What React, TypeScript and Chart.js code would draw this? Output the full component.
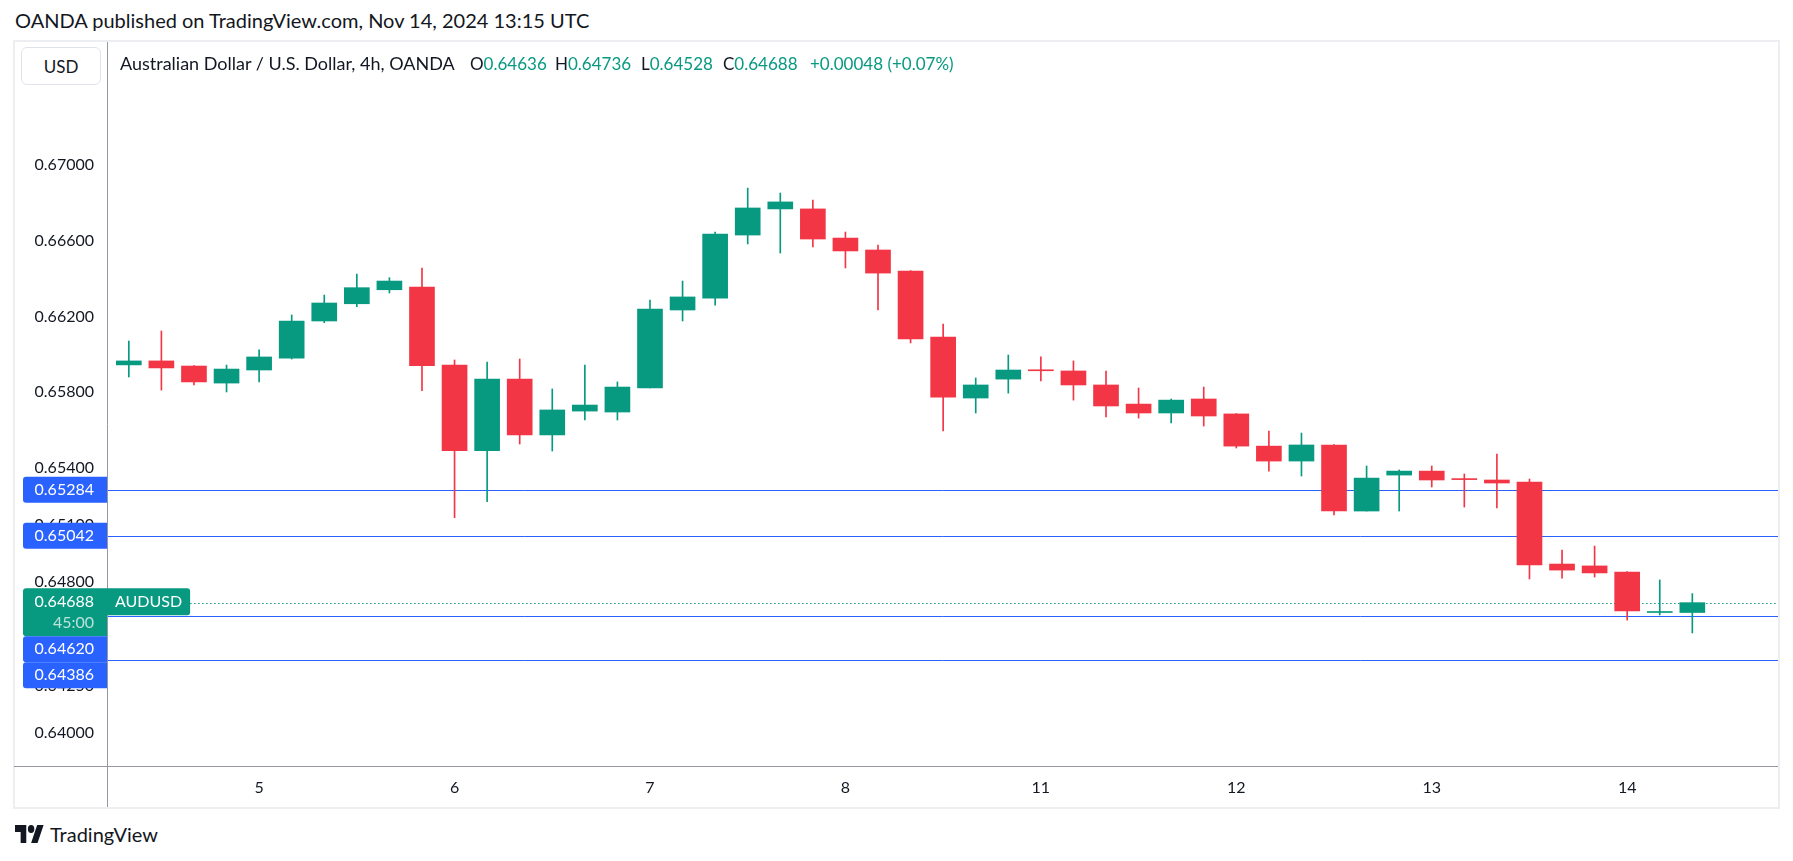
import React, { useEffect, useRef } from "react";
import { Chart, registerables } from "chart.js";

Chart.register(...registerables);

// ---------- data ----------
const opens = [
  0.65944, 0.65965, 0.65938, 0.65848, 0.65917, 0.6598, 0.66176, 0.66267, 0.66341, 0.66355,
  0.65943, 0.65491, 0.65869, 0.65574, 0.657, 0.65695, 0.65822, 0.66234, 0.66297, 0.6663,
  0.66768, 0.66768, 0.66614, 0.66551, 0.6644, 0.66091, 0.65769, 0.65869, 0.65917, 0.65912,
  0.65838, 0.65737, 0.6569, 0.65764, 0.65685, 0.65515, 0.65436, 0.65521, 0.65172, 0.65362,
  0.65383, 0.65342, 0.65336, 0.65325, 0.64892, 0.64882, 0.6485, 0.64636, 0.64636,
];
const highs = [
  0.6607, 0.66123, 0.6594, 0.65943, 0.66023, 0.66208, 0.66313, 0.66424, 0.66405, 0.66456,
  0.6597, 0.65959, 0.65975, 0.65817, 0.65943, 0.65854, 0.66287, 0.66387, 0.66646, 0.66878,
  0.66852, 0.66815, 0.66646, 0.66577, 0.66442, 0.6616, 0.65875, 0.65996, 0.65986, 0.65965,
  0.65912, 0.65822, 0.65764, 0.65827, 0.65687, 0.65595, 0.65584, 0.65523, 0.6541, 0.65389,
  0.6541, 0.65368, 0.65473, 0.65341, 0.64966, 0.64987, 0.64852, 0.64808, 0.64736,
];
const lows = [
  0.6588, 0.65811, 0.65838, 0.65801, 0.65854, 0.65975, 0.66167, 0.66251, 0.66324, 0.65808,
  0.65137, 0.65221, 0.65526, 0.65489, 0.65653, 0.65653, 0.65822, 0.66176, 0.6626, 0.66583,
  0.66535, 0.66567, 0.66456, 0.66234, 0.6606, 0.65595, 0.6569, 0.65795, 0.65859, 0.65758,
  0.65669, 0.65663, 0.65637, 0.65621, 0.65505, 0.65383, 0.65357, 0.65151, 0.65172, 0.65172,
  0.65299, 0.65193, 0.65188, 0.64813, 0.64818, 0.64823, 0.64596, 0.64623, 0.64528,
];
const closes = [
  0.65965, 0.65928, 0.65854, 0.65922, 0.65986, 0.66176, 0.66271, 0.66352, 0.66387, 0.6594,
  0.65491, 0.65869, 0.65574, 0.65706, 0.65732, 0.65827, 0.66239, 0.66303, 0.66635, 0.66773,
  0.66805, 0.66609, 0.66546, 0.66429, 0.66081, 0.65774, 0.65838, 0.65917, 0.65913, 0.65838,
  0.65727, 0.6569, 0.65758, 0.65674, 0.65515, 0.65436, 0.65521, 0.65172, 0.65346, 0.65383,
  0.65336, 0.65338, 0.6532, 0.64887, 0.6486, 0.64845, 0.64644, 0.6464, 0.64688,
];

// time axis: candle index where each day label sits
const dayTickIndex = [4, 10, 16, 22, 28, 34, 40, 46];
const dayLabels = ["5", "6", "7", "8", "11", "12", "13", "14"];

// price axis tick labels
const priceTicks = [0.67, 0.666, 0.662, 0.658, 0.654, 0.651, 0.648, 0.6425, 0.64];

// horizontal levels drawn by the author
const levels = [0.65284, 0.65042, 0.6462, 0.64386];

const symbol = "AUDUSD";
const countdown = "45:00";

const GREEN = "#089981";
const RED = "#F23645";
const BLUE = "#2962FF";
const TEXT = "#131722";
const AXISLINE = "#9598a1";
const FONT = "Lato, 'Noto Sans', sans-serif";

const X_MIN = -0.67;
const X_MAX = 50.63;
const Y_MIN = 0.638251;
const Y_MAX = 0.676498;

export default function App() {
  const ref = useRef<HTMLCanvasElement | null>(null);

  useEffect(() => {
    const canvas = ref.current!;
    const idx = opens.map((_, i) => i);
    const colors = idx.map((i) => (closes[i] >= opens[i] ? GREEN : RED));
    const last = closes.length - 1;

    const overlay = {
      id: "tvOverlay",
      beforeDatasetsDraw(chart: any) {
        const { ctx, chartArea: a, scales } = chart;
        const y = scales.y;
        ctx.save();
        ctx.beginPath();
        ctx.rect(a.left, a.top, a.right - a.left, a.bottom - a.top);
        ctx.clip();
        ctx.strokeStyle = BLUE;
        ctx.lineWidth = 1;
        levels.forEach((v) => {
          const py = Math.round(y.getPixelForValue(v)) + 0.5;
          ctx.beginPath();
          ctx.moveTo(a.left, py);
          ctx.lineTo(a.right, py);
          ctx.stroke();
        });
        ctx.font = `16px ${FONT}`;
        const symW = ctx.measureText(symbol).width + 16;
        const cp = Math.round(y.getPixelForValue(closes[last])) + 0.5;
        ctx.strokeStyle = GREEN;
        ctx.setLineDash([1.5, 2.5]);
        ctx.beginPath();
        ctx.moveTo(a.left + symW, cp);
        ctx.lineTo(a.right, cp);
        ctx.stroke();
        ctx.restore();
      },
      afterDraw(chart: any) {
        const { ctx, chartArea: a, scales, width, height } = chart;
        const y = scales.y;
        ctx.save();
        // axis separators
        ctx.strokeStyle = AXISLINE;
        ctx.lineWidth = 1;
        ctx.beginPath();
        ctx.moveTo(Math.round(a.left) + 0.5, 0);
        ctx.lineTo(Math.round(a.left) + 0.5, height);
        ctx.moveTo(0, Math.round(a.bottom) + 0.5);
        ctx.lineTo(width, Math.round(a.bottom) + 0.5);
        ctx.stroke();

        // price labels
        const labelLeft = 9;
        const labelW = a.left - labelLeft;
        const textX = a.left - 13;
        ctx.font = `16px ${FONT}`;
        ctx.textBaseline = "middle";
        type L = { v: number; top: number; h: number; kind: string };
        const items: L[] = [];
        const cpy = y.getPixelForValue(closes[last]);
        items.push({ v: closes[last], top: cpy - 14.5, h: 48, kind: "cur" });
        levels.forEach((v) => {
          const py = y.getPixelForValue(v);
          items.push({ v, top: py - 13, h: 26, kind: "lvl" });
        });
        items.sort((p, q) => p.top - q.top);
        let prevBottom = -1e9;
        items.forEach((it) => {
          if (it.top < prevBottom) it.top = prevBottom;
          prevBottom = it.top + it.h;
        });
        items.forEach((it) => {
          ctx.fillStyle = it.kind === "cur" ? GREEN : BLUE;
          ctx.beginPath();
          (ctx as any).roundRect(labelLeft, it.top, labelW, it.h, [3, 0, 0, 3]);
          ctx.fill();
          ctx.textAlign = "right";
          ctx.fillStyle = "#ffffff";
          if (it.kind === "cur") {
            ctx.fillText(it.v.toFixed(5), textX, it.top + 14);
            ctx.fillStyle = "rgba(255,255,255,0.72)";
            ctx.fillText(countdown, textX, it.top + 35);
          } else {
            ctx.fillText(it.v.toFixed(5), textX, it.top + it.h / 2);
          }
        });
        // symbol label
        const symW = ctx.measureText(symbol).width + 16;
        ctx.fillStyle = GREEN;
        ctx.beginPath();
        (ctx as any).roundRect(a.left, cpy - 14.5, symW, 27, [0, 3, 3, 0]);
        ctx.fill();
        ctx.fillStyle = "#ffffff";
        ctx.textAlign = "left";
        ctx.fillText(symbol, a.left + 8, cpy - 1);
        ctx.restore();
      },
    };

    const chart = new Chart(canvas, {
      type: "bar",
      data: {
        datasets: [
          {
            label: "wick",
            data: idx.map((i) => ({ x: i, y: [lows[i], highs[i]] })) as any,
            backgroundColor: colors,
            barThickness: 1,
            grouped: false,
            borderWidth: 0,
            borderSkipped: false,
            order: 2,
          } as any,
          {
            label: "body",
            data: idx.map((i) => ({ x: i, y: [opens[i], closes[i]] })) as any,
            backgroundColor: colors,
            barThickness: 25,
            grouped: false,
            borderWidth: 0,
            borderSkipped: false,
            minBarLength: 1,
            order: 1,
          } as any,
        ],
      },
      options: {
        animation: false,
        responsive: false,
        maintainAspectRatio: false,
        devicePixelRatio: 1,
        layout: { padding: 0 },
        plugins: { legend: { display: false }, tooltip: { enabled: false } },
        scales: {
          x: {
            type: "linear",
            min: X_MIN,
            max: X_MAX,
            offset: false,
            grid: { display: false, drawTicks: false },
            border: { display: false },
            afterBuildTicks: (s: any) => {
              s.ticks = dayTickIndex.map((v) => ({ value: v }));
            },
            afterFit: (s: any) => {
              s.height = 41;
              s.paddingLeft = 0;
              s.paddingRight = 0;
              s.paddingTop = 0;
              s.paddingBottom = 0;
            },
            ticks: {
              autoSkip: false,
              maxRotation: 0,
              padding: 12,
              color: TEXT,
              font: { family: FONT, size: 16 },
              callback: (v: any) => {
                const k = dayTickIndex.indexOf(Number(v));
                return k >= 0 ? dayLabels[k] : "";
              },
            },
          } as any,
          y: {
            type: "linear",
            position: "left",
            min: Y_MIN,
            max: Y_MAX,
            beginAtZero: false,
            grid: { display: false, drawTicks: false },
            border: { display: false },
            afterBuildTicks: (s: any) => {
              s.ticks = priceTicks.map((v) => ({ value: v }));
            },
            afterFit: (s: any) => {
              s.width = 93;
              s.paddingLeft = 0;
              s.paddingRight = 0;
              s.paddingTop = 0;
              s.paddingBottom = 0;
            },
            ticks: {
              padding: 13,
              color: TEXT,
              font: { family: FONT, size: 16 },
              callback: (v: any) => Number(v).toFixed(5),
            },
          } as any,
        },
      },
      plugins: [overlay as any],
    });
    return () => chart.destroy();
  }, []);

  const o = opens[opens.length - 1];
  const h = highs[highs.length - 1];
  const l = lows[lows.length - 1];
  const c = closes[closes.length - 1];
  const prev = closes[closes.length - 2];
  const ch = c - prev;
  const pct = (ch / prev) * 100;
  const sign = ch >= 0 ? "+" : "";
  const chText = `${sign}${ch.toFixed(5)} (${sign}${pct.toFixed(2)}%)`;

  const legendItem = (left: number, letter: string, value: string) => (
    <div style={{ position: "absolute", left, top: 54, whiteSpace: "nowrap", fontSize: 17 }}>
      <span style={{ color: TEXT }}>{letter}</span>
      <span style={{ color: GREEN }}>{value}</span>
    </div>
  );

  return (
    <div
      style={{
        position: "absolute",
        left: 0,
        top: 0,
        width: 1793,
        height: 861,
        background: "#ffffff",
        fontFamily: FONT,
        color: TEXT,
        overflow: "hidden",
      }}
    >
      <div style={{ position: "absolute", left: 15, top: 8, fontSize: 20, lineHeight: "24px", whiteSpace: "nowrap" }}>
        OANDA published on TradingView.com, Nov 14, 2024 13:15 UTC
      </div>
      <div
        style={{
          position: "absolute",
          left: 13,
          top: 40,
          width: 1767,
          height: 769,
          border: "2px solid #eceef2",
          boxSizing: "border-box",
        }}
      />
      <canvas
        ref={ref}
        width={1764}
        height={765}
        style={{ position: "absolute", left: 14, top: 42, width: 1764, height: 765 }}
      />
      <div
        style={{
          position: "absolute",
          left: 21,
          top: 47,
          width: 80,
          height: 38,
          border: "1px solid #e0e3eb",
          borderRadius: 6,
          boxSizing: "border-box",
          background: "#ffffff",
          display: "flex",
          alignItems: "center",
          justifyContent: "center",
          fontSize: 17,
        }}
      >
        USD
      </div>
      <div style={{ lineHeight: "20px" }}>
        <div style={{ position: "absolute", left: 120, top: 53, fontSize: 18, whiteSpace: "nowrap" }}>
          Australian Dollar / U.S. Dollar, 4h, OANDA
        </div>
        {legendItem(470, "O", o.toFixed(5))}
        {legendItem(555, "H", h.toFixed(5))}
        {legendItem(641, "L", l.toFixed(5))}
        {legendItem(723, "C", c.toFixed(5))}
        <div style={{ position: "absolute", left: 810, top: 54, fontSize: 17, whiteSpace: "nowrap", color: GREEN }}>
          {chText}
        </div>
      </div>
      <div style={{ position: "absolute", left: 15, top: 822, display: "flex", alignItems: "center" }}>
        <svg width="29" height="18" viewBox="0 4 36 18" preserveAspectRatio="none">
          <path d="M14 22H7V11H0V4h14v18zM28 22h-8l7.5-18h8L28 22z" fill={TEXT} />
          <circle cx="20" cy="8" r="4" fill={TEXT} />
        </svg>
        <span style={{ marginLeft: 6, fontSize: 20, lineHeight: "24px" }}>TradingView</span>
      </div>
    </div>
  );
}
